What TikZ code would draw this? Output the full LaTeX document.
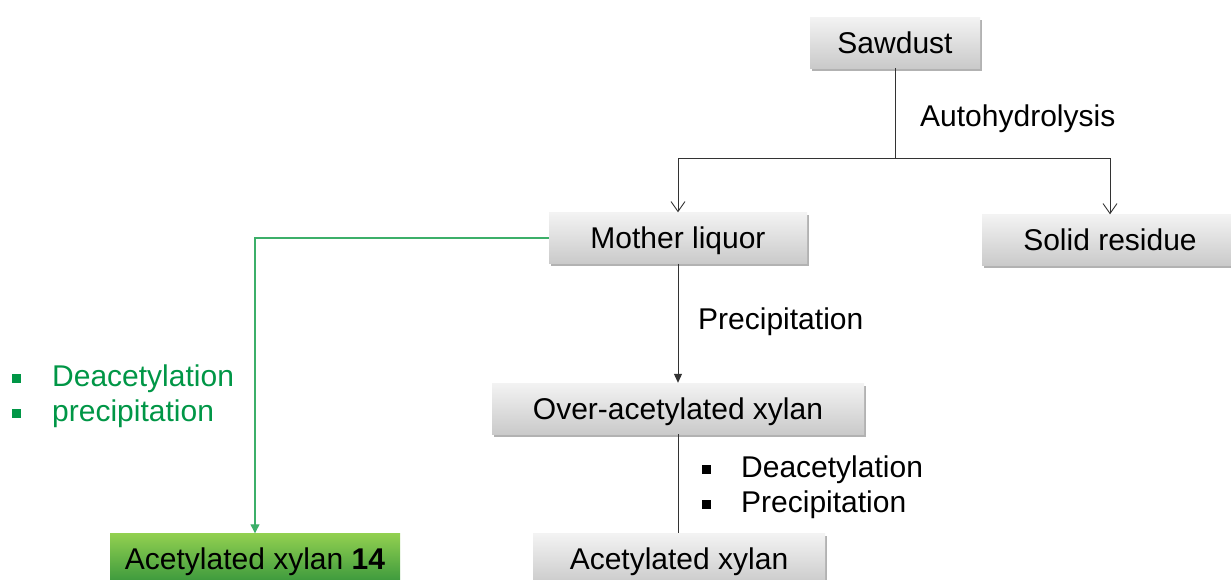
\documentclass[tikz,border=0pt]{standalone}
\usepackage{fontspec}
\setmainfont{Liberation Sans}
\usetikzlibrary{arrows.meta,shadows}
\definecolor{greentext}{RGB}{0,150,70}
\definecolor{greenline}{RGB}{60,175,105}
\definecolor{boxtop}{RGB}{243,243,243}
\definecolor{boxbot}{RGB}{202,202,202}
\definecolor{gtop}{RGB}{146,208,80}
\definecolor{gbot}{RGB}{55,150,60}
\begin{document}
\begin{tikzpicture}[x=1pt,y=-1pt,
  font=\fontsize{30}{35}\selectfont,
  boxtext/.style={inner sep=0pt, minimum height=51pt, text height=21pt, text depth=0pt},
  greybox/.style={boxtext, top color=boxtop, bottom color=boxbot, draw=none,
    drop shadow={shadow xshift=1.5pt, shadow yshift=-2.5pt, opacity=0.3, fill=black}},
  greenbox/.style={boxtext, top color=gtop, bottom color=gbot, draw=none},
  link/.style={draw=black!80, line width=1pt},
  arr/.style={link, -{Straight Barb[length=10pt,width=14pt,line width=0.9pt]}},
  solidarr/.style={link, -{Triangle[length=9pt,width=8pt]}},
  greenarr/.style={draw=greenline, line width=1.2pt, -{Triangle[length=9pt,width=9pt]}},
  bulletline/.style={anchor=base west, inner sep=0pt}
]
\useasboundingbox (0,0) rectangle (1231,579);
\clip (0,0) rectangle (1231,579);

% process steps
\node[greybox, minimum width=170pt] (saw) at (895,42.5) {Sawdust};
\node[greybox, minimum width=258pt] (mother) at (678,238) {Mother liquor};
\node[greybox, minimum width=256pt] (solid) at (1110,240) {Solid residue};
\node[greybox, minimum width=372pt] (over) at (678,408.5) {Over-acetylated xylan};
\node[greybox, minimum width=292pt] (acx) at (679,559) {Acetylated xylan};
\node[greenbox, minimum width=290pt] (acx14) at (255,559) {Acetylated xylan \textbf{14}};

% autohydrolysis split
\coordinate (split) at (895,158);
\draw[link] (saw.south) -- (split);
\draw[arr] (split) -| (mother.north);
\draw[arr] (split) -| (solid.north);
\node[anchor=base west, inner sep=0pt] (lblauto) at (920,126) {Autohydrolysis};

% precipitation branch
\draw[solidarr] (mother.south) -- (over.north);
\node[anchor=base west, inner sep=0pt] (lblprec) at (698,329) {Precipitation};

\draw[link] (over.south) -- (acx.north -| over.south);
\node[bulletline] (b1) at (702,477) {\makebox[39pt][l]{\rule[3pt]{9pt}{9pt}}Deacetylation};
\node[bulletline] (b2) at (702,512) {\makebox[39pt][l]{\rule[3pt]{9pt}{9pt}}Precipitation};

% direct deacetylation branch
\draw[greenarr] (mother.west) -| (acx14.north);
\node[bulletline, text=greentext] (g1) at (12,386) {\makebox[40pt][l]{\rule[3pt]{9pt}{9pt}}Deacetylation};
\node[bulletline, text=greentext] (g2) at (12,421) {\makebox[40pt][l]{\rule[3pt]{9pt}{9pt}}precipitation};
\end{tikzpicture}
\end{document}
